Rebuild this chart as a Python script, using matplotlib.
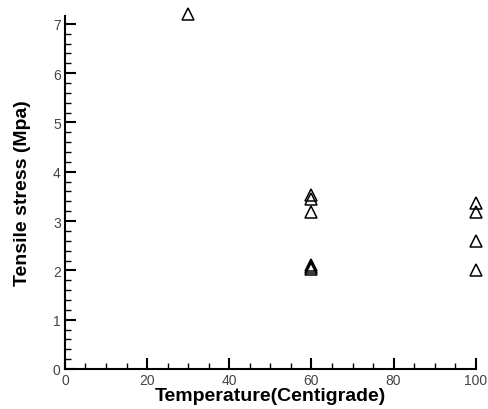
import matplotlib
matplotlib.use("Agg")
import matplotlib.pyplot as plt
from matplotlib.ticker import MultipleLocator

temperature = [30, 60, 60, 60, 60, 60, 60, 100, 100, 100, 100]
stress = [7.2, 3.53, 3.45, 3.18, 2.1, 2.06, 2.02, 3.36, 3.18, 2.6, 2.0]

plt.rcParams['font.family'] = ['Liberation Sans', 'DejaVu Sans']
fig = plt.figure(figsize=(4.88, 4.10), dpi=100)
ax = fig.add_axes([0.133, 0.0976, 0.842, 0.861])
ax.plot(temperature, stress, linestyle='none', marker='^', markersize=8,
        markerfacecolor='none', markeredgecolor='black', markeredgewidth=1.1,
        clip_on=False)
ax.set_xlim(0, 100)
ax.set_ylim(0, 7.16)
ax.xaxis.set_major_locator(MultipleLocator(20))
ax.xaxis.set_minor_locator(MultipleLocator(5))
ax.yaxis.set_major_locator(MultipleLocator(1))
ax.yaxis.set_minor_locator(MultipleLocator(0.2))
ax.tick_params(which='major', direction='in', length=8, width=1.5, labelsize=10, colors='black', labelcolor='#444444', pad=3)
ax.tick_params(which='minor', direction='in', length=4, width=1)
for s in ['top', 'right']:
    ax.spines[s].set_visible(False)
for s in ['left', 'bottom']:
    ax.spines[s].set_linewidth(1.5)
ax.set_xlabel('Temperature(Centigrade)', fontsize=14, fontweight='bold', labelpad=0)
ax.set_ylabel('Tensile stress (Mpa)', fontsize=14, fontweight='bold', labelpad=16)
fig.savefig('out.png', dpi=100)
